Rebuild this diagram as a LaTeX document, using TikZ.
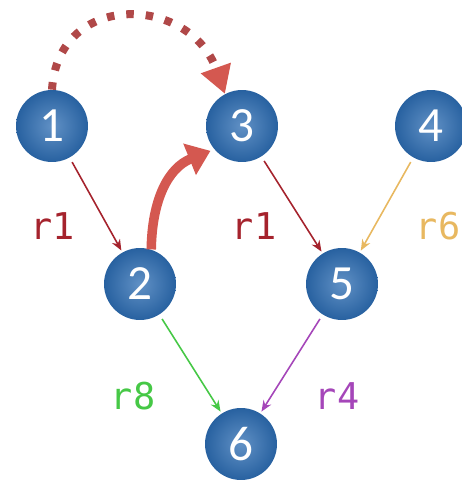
\documentclass[tikz,border=0pt]{standalone}
\usepackage{fontspec}
\setmainfont{Carlito}
\newfontfamily\monofont{DejaVu Sans Mono}
\usepackage{tikz}
\usetikzlibrary{arrows.meta}

\definecolor{nodeblue}{RGB}{44,108,178}
\definecolor{redarc}{RGB}{212,88,80}
\definecolor{dotred}{RGB}{176,72,72}
\definecolor{rone}{RGB}{165,35,45}
\definecolor{rsix}{RGB}{232,184,96}
\definecolor{reight}{RGB}{70,200,70}
\definecolor{rfour}{RGB}{165,70,185}

\tikzset{
  state/.style={circle, minimum size=1.44cm, inner sep=0pt,
    shading=radial, inner color=nodeblue!75!white, outer color=nodeblue!90!black,
    text=white, font=\fontsize{28}{30}\selectfont},
  link/.style={line width=0.9pt, -{Stealth[length=0.22cm,width=0.18cm]},
    shorten <=0.1cm, shorten >=0.04cm},
  rlab/.style={font=\monofont\fontsize{21}{24}\selectfont}
}

\begin{document}
\begin{tikzpicture}[x=0.02cm, y=-0.02cm]
  \useasboundingbox (0,0) rectangle (461,483);

  % Nodes
  \node[state] (n1) at (52,126) {1};
  \node[state] (n3) at (242,126) {3};
  \node[state] (n4) at (431,126) {4};
  \node[state] (n2) at (140,284) {2};
  \node[state] (n5) at (342,284) {5};
  \node[state] (n6) at (241,444) {6};

  % Dotted arc from 1 to 3
  \draw[dotred, line width=0.16cm, dash pattern=on 0.15cm off 0.24cm,
    -{Triangle[length=0.55cm,width=0.6cm,color=redarc]}]
    (n1.north) .. controls (58,-10) and (190,-5) .. (n3.118);

  % Thick arc from 2 to 3
  \draw[redarc, line width=0.19cm, -{Triangle[length=0.45cm,width=0.65cm]},
    shorten >=0.08cm]
    (n2.72) .. controls (152,200) and (168,168) .. (n3.220);

  % Edges with rules
  \draw[link, rone] (n1) -- (n2);
  \draw[link, rone] (n3) -- (n5);
  \draw[link, rsix] (n4) -- (n5);
  \draw[link, reight] (n2) -- (n6);
  \draw[link, rfour] (n5) -- (n6);

  % Rule labels
  \node[rlab, rone] (l12) at (53,226) {r1};
  \node[rlab, rone] (l35) at (254,226) {r1};
  \node[rlab, rsix] (l45) at (438,226) {r6};
  \node[rlab, reight] (l26) at (133,396) {r8};
  \node[rlab, rfour] (l56) at (337,396) {r4};
\end{tikzpicture}
\end{document}
